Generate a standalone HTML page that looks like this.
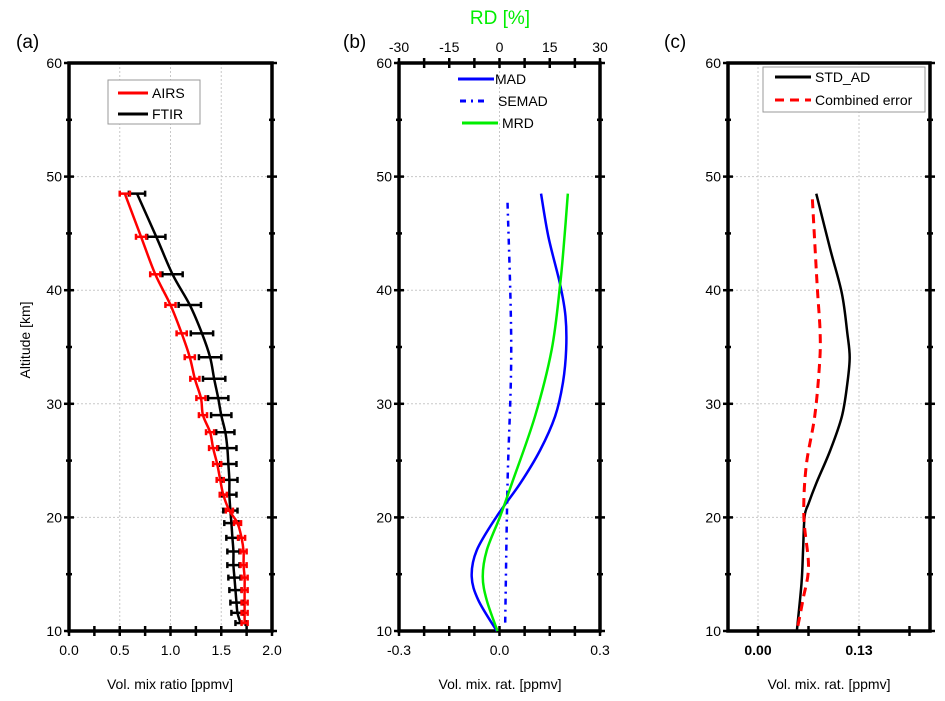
<!DOCTYPE html>
<html><head><meta charset="utf-8"><style>
body{margin:0;background:#fff;}
svg{display:block;font-family:"Liberation Sans",Arial,sans-serif;}
</style></head><body>
<svg id="fig" width="945" height="701" viewBox="0 0 945 701"></svg>
<script>
// ---- data ----
const altTicks=[10,20,30,40,50,60];
const aTicks=["0.0","0.5","1.0","1.5","2.0"];
const aTickVals=[0,0.5,1,1.5,2];
const bTicks=["-0.3","0.0","0.3"];
const bTickVals=[-0.3,0,0.3];
const rdTicks=["-30","-15","0","15","30"];
const rdTickVals=[-30,-15,0,15,30];
const cTicks=["0.00","0.13"];
const cTickVals=[0,0.13];
const ptAlt=[48.5,44.7,41.4,38.7,36.2,34.1,32.2,30.5,29.0,27.5,26.1,24.7,23.3,22.0,20.6,19.5,18.2,17.0,15.8,14.7,13.6,12.5,11.6,10.7];
const airs=[0.55,0.71,0.85,1.0,1.11,1.19,1.24,1.30,1.32,1.39,1.42,1.46,1.49,1.52,1.58,1.66,1.70,1.72,1.72,1.73,1.73,1.73,1.73,1.73];
const airsErr=[0.05,0.05,0.05,0.05,0.05,0.05,0.045,0.045,0.04,0.04,0.04,0.04,0.035,0.035,0.035,0.035,0.035,0.03,0.03,0.03,0.03,0.03,0.03,0.03];
const ftir=[0.67,0.86,1.02,1.19,1.31,1.39,1.43,1.47,1.50,1.54,1.56,1.57,1.58,1.58,1.59,1.60,1.61,1.62,1.62,1.63,1.64,1.65,1.66,1.69];
const ftirErr=[0.08,0.09,0.1,0.11,0.11,0.11,0.11,0.1,0.1,0.09,0.09,0.08,0.08,0.07,0.07,0.07,0.06,0.06,0.06,0.06,0.06,0.06,0.06,0.05];
const madAlt=[48.5,44.7,40.5,37.7,34.8,31.8,28.9,25.9,23.0,20.1,17.1,14.8,12.7,10];
const mad=[0.124,0.146,0.181,0.197,0.199,0.189,0.166,0.121,0.062,-0.008,-0.068,-0.083,-0.063,-0.008];
const semadAlt=[47.7,34.8,23.0,10.7];
const semad=[0.024,0.035,0.024,0.017];
const mrdAlt=[48.5,44.7,40.5,34.8,28.9,23.0,20.1,17.1,14.8,12.7,10];
const mrd=[20.4,19.4,18.1,15.6,10.6,3.7,0.2,-3.8,-5.0,-3.8,-0.6];
const stdAlt=[48.5,43.6,39.7,36.2,34.1,31.8,28.9,25.9,23.0,21.2,20.1,17.1,14.2,10];
const stdAd=[0.075,0.093,0.108,0.115,0.118,0.115,0.108,0.093,0.075,0.065,0.060,0.058,0.056,0.050];
const combAlt=[48.0,40.6,36.2,33.3,28.9,24.5,20.1,15.7,12.8,10];
const comb=[0.070,0.076,0.080,0.079,0.073,0.062,0.059,0.065,0.058,0.050];

const NS="http://www.w3.org/2000/svg";
const svg=document.getElementById('fig');
function el(tag,attrs,parent,text){const e=document.createElementNS(NS,tag);for(const k in attrs)e.setAttribute(k,attrs[k]);if(text!==undefined)e.textContent=text;(parent||svg).appendChild(e);return e;}
const Y=a=>631-(a-10)*11.36;
function lin(d0,d1,r0,r1){return v=>r0+(v-d0)/(d1-d0)*(r1-r0);}
const xa=lin(0,2,69,272), xb=lin(-0.3,0.3,399,600), xrd=lin(-30,30,399,600), xc=lin(0,0.13,758,859);
function smooth(pts){let d=`M${pts[0][0]},${pts[0][1]}`;for(let i=0;i<pts.length-1;i++){const p0=pts[i-1]||pts[i],p1=pts[i],p2=pts[i+1],p3=pts[i+2]||p2;d+=` C${p1[0]+(p2[0]-p0[0])/6},${p1[1]+(p2[1]-p0[1])/6} ${p2[0]-(p3[0]-p1[0])/6},${p2[1]-(p3[1]-p1[1])/6} ${p2[0]},${p2[1]}`;}return d;}

function frame(name,x0,x1,xVals,xLabels,xMinorStep,xDom,xs){
  const g=el('g',{});
  
  
  altTicks.forEach(a=>{if(a>10&&a<60){const l=el('line',{x1:x0,x2:x1,y1:Y(a),y2:Y(a),stroke:'#c8c8c8','stroke-dasharray':'2,2'},g);}});
  xVals.forEach(v=>{const x=xs(v);if(x>x0+2&&x<x1-2){const l=el('line',{x1:x,x2:x,y1:63,y2:631,stroke:'#c8c8c8','stroke-dasharray':'2,2'},g);}});
  for(let a=10;a<=60;a+=5){const L=a%10===0?5:3;
    el('line',{x1:x0-L,x2:x0+L,y1:Y(a),y2:Y(a),stroke:'#000','stroke-width':2.5},g);
    el('line',{x1:x1-L,x2:x1+L,y1:Y(a),y2:Y(a),stroke:'#000','stroke-width':2.5},g);}
  altTicks.forEach(a=>{const t=el('text',{x:x0-7,y:Y(a)+5,'text-anchor':'end','font-size':14},g,String(a));});
  for(let v=xDom[0];v<=xDom[1]+1e-9;v+=xMinorStep){const x=xs(v);el('line',{x1:x,x2:x,y1:626,y2:636,stroke:'#000','stroke-width':2.5},g);}
  xVals.forEach((v,i)=>{const t=el('text',{x:xs(v),y:655,'text-anchor':'middle','font-size':14,'font-weight':name==='panel-c-axes'?'bold':'normal'},g,xLabels[i]);});
  const r=el('rect',{x:x0,y:63,width:x1-x0,height:568,fill:'none',stroke:'#000','stroke-width':3.5},g);
  
  return g;
}
frame('panel-a-axes',69,272,aTickVals,aTicks,0.25,[0,2],xa);
const gb=frame('panel-b-axes',399,600,bTickVals,bTicks,0.075,[-0.3,0.3],xb);
for(let v=-30;v<=30;v+=7.5){el('line',{x1:xrd(v),x2:xrd(v),y1:58,y2:68,stroke:'#000','stroke-width':2.5},gb);}
rdTickVals.forEach((v,i)=>{const t=el('text',{x:xrd(v),y:52,'text-anchor':'middle','font-size':14},gb,rdTicks[i]);});
frame('panel-c-axes',728,930,cTickVals,cTicks,0.065,[0,0.195],xc);

function errSeries(name,vals,errs,color,off){
  const g=el('g',{});
  ptAlt.forEach((a,i)=>{const y=Y(a)+off,xl=xa(vals[i]-errs[i]),xr=xa(vals[i]+errs[i]);
    el('line',{x1:xl,x2:xr,y1:y,y2:y,stroke:color,'stroke-width':2.5},g);
    el('line',{x1:xl,x2:xl,y1:y-3,y2:y+3,stroke:color,'stroke-width':2.5},g);
    el('line',{x1:xr,x2:xr,y1:y-3,y2:y+3,stroke:color,'stroke-width':2.5},g);});
  const p=el('path',{d:smooth(ptAlt.map((a,i)=>[xa(vals[i]),Y(a)+off])),fill:'none',stroke:color,'stroke-width':2.5},g);
  
}
errSeries('ftir-series',ftir,ftirErr,'#000',0);
errSeries('airs-series',airs,airsErr,'#f00',0);

let p;
p=el('path',{d:smooth(madAlt.map((a,i)=>[xb(mad[i]),Y(a)])),fill:'none',stroke:'#0000ff','stroke-width':2.5});

p=el('path',{d:smooth(semadAlt.map((a,i)=>[xb(semad[i]),Y(a)])),fill:'none',stroke:'#0000ff','stroke-width':2.5,'stroke-dasharray':'6,5,2,5'});

p=el('path',{d:smooth(mrdAlt.map((a,i)=>[xrd(mrd[i]),Y(a)])),fill:'none',stroke:'#00ee00','stroke-width':2.5});


p=el('path',{d:smooth(stdAlt.map((a,i)=>[xc(stdAd[i]),Y(a)])),fill:'none',stroke:'#000','stroke-width':2.5});

p=el('path',{d:smooth(combAlt.map((a,i)=>[xc(comb[i]),Y(a)])),fill:'none',stroke:'#f00','stroke-width':3,'stroke-dasharray':'9,6'});


function legendEntry(name,x1,x2,y,color,dash,label,tx){
  const g=el('g',{});
  el('line',{x1:x1,x2:x2,y1:y,y2:y,stroke:color,'stroke-width':3,'stroke-dasharray':dash||'none'},g);
  el('text',{x:tx,y:y+5,'font-size':14},g,label);
}
let lb=el('rect',{x:108,y:80,width:92,height:44,fill:'#fff',stroke:'#999'});

legendEntry('legend-airs',118,148,93,'#f00',null,'AIRS',152);
legendEntry('legend-ftir',118,148,114,'#000',null,'FTIR',152);
legendEntry('legend-mad',458,494,79,'#0000ff',null,'MAD',495);
legendEntry('legend-semad',460,488,101,'#0000ff','6,5,2,5','SEMAD',498);
legendEntry('legend-mrd',462,498,123,'#00ee00',null,'MRD',502);
lb=el('rect',{x:763,y:67,width:162,height:45,fill:'#fff',stroke:'#999'});

legendEntry('legend-std-ad',775,811,77,'#000',null,'STD_AD',815);
legendEntry('legend-combined',775,811,100,'#f00','9,6','Combined error',815);

function txt(name,attrs,s){const t=el('text',attrs,svg,s);return t;}
txt('panel-a-label',{x:16,y:48,'font-size':19},'(a)');
txt('panel-b-label',{x:343,y:48,'font-size':19},'(b)');
txt('panel-c-label',{x:664,y:48,'font-size':19},'(c)');
txt('rd-axis-title',{x:500,y:24,'font-size':19,'text-anchor':'middle',fill:'#00ee00'},'RD [%]');
txt('y-axis-title',{x:0,y:0,'font-size':14,'text-anchor':'middle',transform:'translate(30,340) rotate(-90)'},'Altitude [km]');
txt('x-axis-title-a',{x:170,y:689,'font-size':14,'text-anchor':'middle'},'Vol. mix ratio [ppmv]');
txt('x-axis-title-b',{x:500,y:689,'font-size':14,'text-anchor':'middle'},'Vol. mix. rat. [ppmv]');
txt('x-axis-title-c',{x:829,y:689,'font-size':14,'text-anchor':'middle'},'Vol. mix. rat. [ppmv]');
</script>
</body></html>
